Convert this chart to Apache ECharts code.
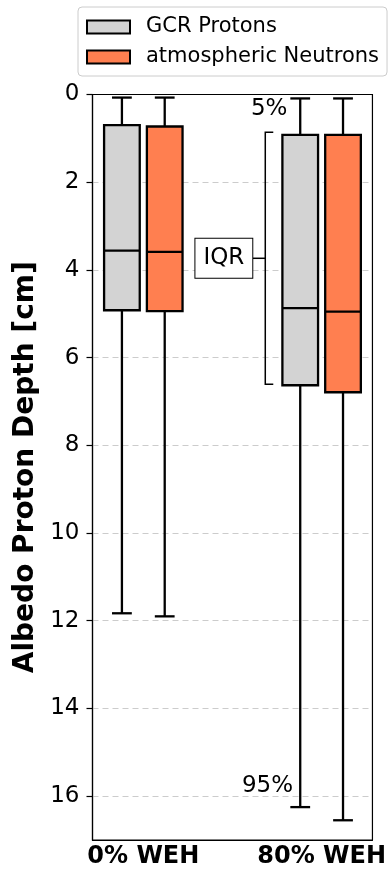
<!DOCTYPE html>
<html>
<head>
<meta charset="utf-8">
<script src="https://cdn.jsdelivr.net/npm/echarts@6/dist/echarts.min.js"></script>
<style>
html,body{margin:0;padding:0;background:#fff;}
#chart{width:389px;height:869px;}
</style>
</head>
<body>
<div id="chart"></div>
<script>
// ---- data ----
const categories = ['0% WEH', '80% WEH'];
const seriesNames = ['GCR Protons', 'atmospheric Neutrons'];
// each row: [5%, Q1, median, Q3, 95%] depth in cm
const gcrProtons = [
  [0.07, 0.70, 3.56, 4.92, 11.83],
  [0.09, 0.92, 4.87, 6.63, 16.25]
];
const atmNeutrons = [
  [0.07, 0.73, 3.59, 4.94, 11.90],
  [0.09, 0.92, 4.95, 6.79, 16.55]
];
const yTickStep = 2;
const yMax = 17;

// ---- annotation placement (data coordinates) ----
const annoText = [
  { text: '5%', x: 0.808, y: 0.33 },
  { text: '95%', x: 0.84, y: 15.78 }
];
const iqrBracket = { x: 0.684, top: 0.86, bottom: 6.61, label: 'IQR' };

const FONT = 'DejaVu Sans';
const colors = ['#d3d3d3', '#ff7f50'];
const offsets = [-0.12, 0.12];
const boxW = 0.2, capW = 0.111;
const LW = 2.3;

function toRows(arr) { return arr.map((r, i) => [i].concat(r)); }

function boxRender(offset, fill) {
  return function (params, api) {
    const c = api.value(0) + offset;
    const v = [1, 2, 3, 4, 5].map(i => api.value(i));
    const hb = api.size([boxW, 0])[0] / 2;
    const hc = api.size([capW, 0])[0] / 2;
    const x = api.coord([c, 0])[0];
    const py = v.map(val => api.coord([c, val])[1]);
    const [lo, q1, md, q3, hi] = py;
    const ls = { stroke: '#000', lineWidth: LW, fill: null };
    return {
      type: 'group',
      children: [
        { type: 'line', shape: { x1: x, y1: lo, x2: x, y2: q1 }, style: ls },
        { type: 'line', shape: { x1: x, y1: q3, x2: x, y2: hi }, style: ls },
        { type: 'line', shape: { x1: x - hc, y1: lo, x2: x + hc, y2: lo }, style: ls },
        { type: 'line', shape: { x1: x - hc, y1: hi, x2: x + hc, y2: hi }, style: ls },
        { type: 'rect', shape: { x: x - hb, y: Math.min(q1, q3), width: 2 * hb, height: Math.abs(q3 - q1) },
          style: { fill: fill, stroke: '#000', lineWidth: LW } },
        { type: 'line', shape: { x1: x - hb, y1: md, x2: x + hb, y2: md }, style: ls }
      ]
    };
  };
}

function annoRender(params, api) {
  const children = [];
  annoText.forEach(a => {
    const p = api.coord([a.x, a.y]);
    children.push({ type: 'text', style: { x: p[0], y: p[1], text: a.text, fill: '#000',
      font: '23px "' + FONT + '"', align: 'right', verticalAlign: 'middle' } });
  });
  const t = api.coord([iqrBracket.x, iqrBracket.top]);
  const b = api.coord([iqrBracket.x, iqrBracket.bottom]);
  const mid = (t[1] + b[1]) / 2;
  const ls = { stroke: '#000', lineWidth: 1.5, fill: null };
  children.push({ type: 'polyline', shape: { points: [[t[0] + 8, t[1]], [t[0], t[1]], [b[0], b[1]], [b[0] + 8, b[1]]] }, style: ls });
  children.push({ type: 'line', shape: { x1: t[0], y1: mid, x2: t[0] - 13, y2: mid }, style: ls });
  children.push({ type: 'text', style: { x: t[0] - 13, y: mid, text: iqrBracket.label, fill: '#000',
    font: '23px "' + FONT + '"', align: 'right', verticalAlign: 'middle',
    backgroundColor: '#fff', borderColor: '#000', borderWidth: 1, padding: [9, 8, 7, 8] } });
  return { type: 'group', children };
}

const chart = echarts.init(document.getElementById('chart'), null, { renderer: 'canvas' });
chart.setOption({
  backgroundColor: '#fff',
  animation: false,
  textStyle: { fontFamily: FONT },
  legend: {
    data: seriesNames,
    orient: 'vertical',
    left: 78, top: 7,
    padding: [8, 8, 7, 8],
    itemWidth: 43, itemHeight: 13, itemGap: 6,
    icon: 'rect',
    itemStyle: { borderColor: '#000', borderWidth: 2 },
    textStyle: { fontFamily: FONT, fontSize: 21, color: '#000', lineHeight: 24, padding: [0, 0, 0, 11] },
    borderColor: '#cccccc', borderWidth: 1, borderRadius: 4, backgroundColor: '#fff'
  },
  grid: { left: 92.5, right: 14, top: 94.5, bottom: 29, show: true, borderColor: '#000', borderWidth: 1.2, backgroundColor: 'transparent' },
  xAxis: {
    type: 'value', min: -0.285, max: 1.285,
    axisLine: { show: true, onZero: false, lineStyle: { color: '#000', width: 1.2 } },
    axisTick: { show: false },
    splitLine: { show: false },
    axisLabel: {
      customValues: [0, 1],
      formatter: v => categories[Math.round(v)],
      fontFamily: FONT, fontSize: 24, fontWeight: 'bold', color: '#000', margin: 5
    }
  },
  yAxis: {
    type: 'value', inverse: true, min: 0, max: yMax, interval: yTickStep,
    name: 'Albedo Proton Depth [cm]',
    nameLocation: 'middle', nameGap: 52, nameRotate: 90,
    nameTextStyle: { fontFamily: FONT, fontSize: 28, fontWeight: 'bold', color: '#000' },
    axisLine: { show: true, onZero: false, lineStyle: { color: '#000', width: 1.2 } },
    axisTick: { show: true, inside: false, length: 6, lineStyle: { color: '#000', width: 1.2 } },
    axisLabel: { fontFamily: FONT, fontSize: 23, color: '#000', margin: 13, showMaxLabel: false,
      formatter: v => (v % yTickStep === 0 ? String(v) : '') },
    splitLine: { show: true, showMinLine: false, showMaxLine: false, lineStyle: { color: '#cccccc', type: [6, 4], width: 1 } }
  },
  series: [
    { name: seriesNames[0], type: 'custom', renderItem: boxRender(offsets[0], colors[0]),
      itemStyle: { color: colors[0] }, encode: { x: 0, y: [1, 2, 3, 4, 5] }, data: toRows(gcrProtons), z: 3 },
    { name: seriesNames[1], type: 'custom', renderItem: boxRender(offsets[1], colors[1]),
      itemStyle: { color: colors[1] }, encode: { x: 0, y: [1, 2, 3, 4, 5] }, data: toRows(atmNeutrons), z: 3 },
    { name: 'annotations', type: 'custom', renderItem: annoRender, silent: true,
      encode: { x: 0, y: 1 }, data: [[0.5, 3.7]], z: 4 }
  ]
});
</script>
</body>
</html>
